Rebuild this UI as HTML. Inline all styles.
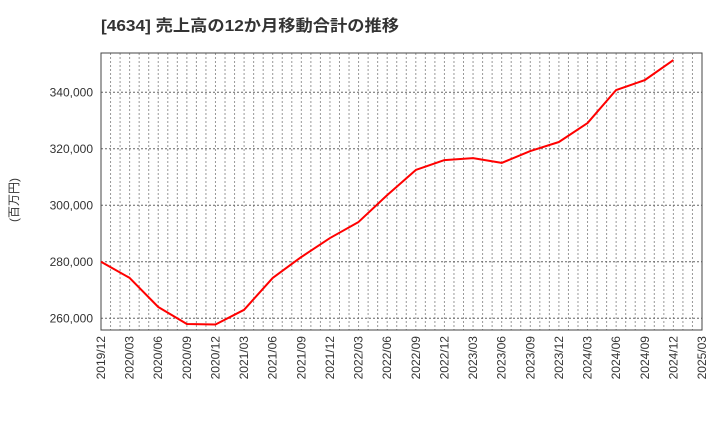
<!DOCTYPE html>
<html><head><meta charset="utf-8"><style>
body{margin:0;background:#fff;}
svg text{font-family:"Liberation Sans","Noto Sans CJK JP",sans-serif;}
</style></head><body>
<svg id="chart" width="720" height="440" viewBox="0 0 720 440" xmlns="http://www.w3.org/2000/svg">
<text x="101" y="31" font-size="16" font-weight="bold" fill="#333" textLength="298" lengthAdjust="spacingAndGlyphs">[4634]  売上高の12か月移動合計の推移</text>
<text transform="translate(18,200) rotate(-90)" font-size="12" fill="#333" text-anchor="middle">(百万円)</text>
<g id="grid"></g><g id="axes"></g><g id="series"></g>
</svg>
<script>
const categories=["2019/12","2020/03","2020/06","2020/09","2020/12","2021/03","2021/06","2021/09","2021/12","2022/03","2022/06","2022/09","2022/12","2023/03","2023/06","2023/09","2023/12","2024/03","2024/06","2024/09","2024/12"];
const values=[280000,274300,264000,258000,257800,263000,274300,281700,288400,294100,303600,312500,316000,316700,315000,319200,322400,329100,340800,344300,351400];
const xTickLabels=["2019/12","2020/03","2020/06","2020/09","2020/12","2021/03","2021/06","2021/09","2021/12","2022/03","2022/06","2022/09","2022/12","2023/03","2023/06","2023/09","2023/12","2024/03","2024/06","2024/09","2024/12","2025/03"];
const yTicks=[260000,280000,300000,320000,340000];
const L=101,R=702,T=53,B=330,yMin=255860,yMax=353900;
const ns="http://www.w3.org/2000/svg";
const qW=(R-L)/(xTickLabels.length-1);
const x=i=>L+i*qW;
const y=v=>B-(v-yMin)/(yMax-yMin)*(B-T);
function mk(tag,attrs,parent){const e=document.createElementNS(ns,tag);for(const k in attrs)e.setAttribute(k,attrs[k]);parent.appendChild(e);return e;}
const grid=document.getElementById('grid'),axes=document.getElementById('axes'),series=document.getElementById('series');
for(let m=1;m<(xTickLabels.length-1)*3;m++){
  const gx=L+m*qW/3;
  const l=mk('line',{x1:gx,x2:gx,y1:T,y2:B,stroke:'#999','stroke-width':1,'stroke-dasharray':'2,2'},grid);
  
  
}
yTicks.forEach(v=>{
  const l=mk('line',{x1:L,x2:R,y1:y(v),y2:y(v),stroke:'#666','stroke-width':1,'stroke-dasharray':'2,2'},grid);
  
  
  const t=mk('text',{x:L-8,y:y(v)+4,'font-size':12,fill:'#333','text-anchor':'end'},axes);
  t.textContent=v.toLocaleString('en-US');
  
  
});
xTickLabels.forEach((s,i)=>{
  const t=mk('text',{transform:`translate(${x(i)+4},${B+6}) rotate(-90)`,'font-size':12,fill:'#333','text-anchor':'end'},axes);
  t.textContent=s;
  
  
});
const frame=mk('rect',{x:L,y:T,width:R-L,height:B-T,fill:'none',stroke:'#444','stroke-width':1},axes);


const pts=values.map((v,i)=>x(i)+','+y(v)).join(' ');
const line=mk('polyline',{points:pts,fill:'none',stroke:'#ff0000','stroke-width':2,'stroke-linejoin':'round'},series);


</script>
</body></html>
